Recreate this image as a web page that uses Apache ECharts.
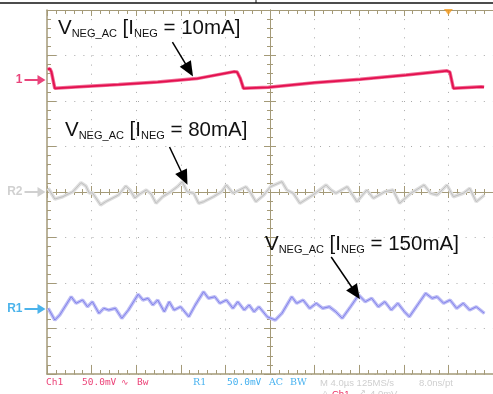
<!DOCTYPE html>
<html lang="en">
<head>
<meta charset="UTF-8" />
<title>scope capture</title>
<script src="https://cdn.jsdelivr.net/npm/echarts@6/dist/echarts.min.js"></script>
<style>
  html, body { margin: 0; padding: 0; background: #fff; }
  #scope { width: 493px; height: 394px; }
</style>
</head>
<body>
<div id="scope"></div>
<script>
// time in us from the left edge of the screen (4 us/div), level in mV (50 mV/div)
var ch1Time = [0.06, 0.26, 0.40, 0.70, 2.90, 6.42, 9.93, 13.45, 16.79, 17.05, 17.32, 17.62, 19.87, 23.99, 28.10, 32.20, 35.87, 36.13, 36.45, 38.94, 39.20];
var ch1Volt = [11.8, 12.6, 8.8, -9.1, -7.4, -4.9, -2.2, 1.6, 9.3, 8.8, 2.2, -9.1, -8.0, -2.9, 0.8, 5.5, 10.2, 8.8, -9.1, -7.4, -7.7];

var r2Time = [0.11, 0.70, 1.41, 2.31, 3.05, 3.49, 3.78, 4.07, 4.81, 5.25, 6.42, 7.06, 7.45, 7.88, 8.32, 8.90, 9.34, 9.78, 10.37, 11.10,
  11.69, 12.13, 12.57, 13.16, 13.60, 14.04, 14.92, 15.65, 16.09, 16.68, 17.26, 17.85, 18.29, 18.73, 19.45, 20.04, 21.07, 21.51, 22.09, 22.68,
  23.85, 25.03, 25.47, 25.91, 26.93, 27.80, 28.68, 29.27, 30.30, 31.03, 31.62, 32.64, 33.82, 34.40, 34.99, 35.87, 36.45, 37.33, 37.91, 38.50, 39.23];
var r2Volt = [4.1, -7.7, -5.2, 0.3, 10.2, 6.6, -1.1, -0.8, -14.3, -10.7, -3.3, 6.6, 2.2, -6.6, -2.2, 2.2, -2.2, -12.4, -5.2, 0.3,
  5.8, 11.3, 0.3, -1.4, -12.4, -10.7, -5.2, 0.3, 7.7, -1.4, 2.2, 5.8, -1.4, -10.7, -3.3, 5.8, 11.3, 2.2, -1.4, -12.4,
  -3.3, 7.7, 2.2, -1.4, 5.8, -10.7, 2.2, -6.9, 0.3, 2.2, -12.4, -1.4, 7.7, -1.4, -3.3, 7.7, -5.2, -1.4, 4.1, -10.7, -3.3];

var r1Time = [0.11, 0.70, 1.14, 2.17, 2.61, 3.19, 3.63, 4.07, 4.66, 5.10, 5.54, 6.13, 6.71, 7.30, 8.18, 8.61, 9.05, 9.49, 9.93, 10.52,
  10.96, 11.40, 11.98, 12.72, 13.30, 14.04, 14.48, 15.06, 15.50, 16.09, 16.68, 17.11, 17.69, 18.13, 18.57, 19.01, 19.75, 20.48, 21.07, 21.95,
  22.39, 22.97, 23.56, 24.15, 24.73, 25.32, 25.90, 26.48, 27.22, 27.95, 28.54, 29.12, 29.71, 30.30, 30.88, 31.47, 32.06, 32.50, 33.23, 33.96,
  34.55, 34.99, 35.57, 36.15, 36.74, 37.33, 37.91, 38.50, 39.23];
var r1Volt = [0.8, -12.1, -6.6, 13.5, 6.3, 9.9, 2.5, 8.0, -4.7, 0.8, -1.1, 0.8, -10.2, -1.1, 16.2, 9.9, 11.8, 4.4, 9.9, -3.0,
  8.0, -1.1, 2.5, -8.5, 4.4, 19.0, 11.8, 13.5, 6.3, 9.9, 0.8, 8.0, -1.1, 4.4, -3.0, 2.5, -8.5, -12.1, -4.7, 13.5,
  6.3, 9.9, 0.8, 6.3, 0.8, 2.5, -3.0, -10.2, 2.5, 15.4, 8.0, 11.8, 2.5, 8.0, -1.1, 6.3, -3.0, -8.5, 4.4, 17.3,
  11.8, 13.5, 6.3, 9.9, 0.8, 6.3, -1.1, 2.5, -4.7];

// ground marker of each trace (mV from screen centre)
var markerNames = ['1', 'R2', 'R1'];
var markerLevels = [123, 0, -128.6];
var markerColors = ['#e3155a', '#c4c4c4', '#1ea0e6'];
var triggerTime = 36.0;

// annotation pointers [time, mV] -> [time, mV]
var pointerFrom = [[11.25, 164.8], [10.99, 49.5], [25.49, -71.4]];
var pointerTo = [[12.75, 134.1], [12.31, 15.4], [27.69, -111.0]];

var halfSpan = 20; // screen centre is 20 us

function pairs(ts, vs, off) {
  return ts.map(function (t, i) { return [t - halfSpan, vs[i] + off]; });
}

var chart = echarts.init(document.getElementById('scope'));
var frame = '#a49a78';

function centreAxis(pos) {
  return {
    type: 'value', position: pos, min: -halfSpan, max: halfSpan, interval: 4,
    axisLine: { show: true, onZero: true, onZeroAxisIndex: 0, lineStyle: { color: frame, width: 1 } },
    axisTick: { show: true, inside: true, length: 6, lineStyle: { color: frame } },
    minorTick: { show: true, splitNumber: 5, length: 3, lineStyle: { color: frame } },
    axisLabel: { show: false }, splitLine: { show: false }
  };
}
function centreYAxis(pos) {
  return {
    type: 'value', position: pos, min: -200, max: 200, interval: 50,
    axisLine: { show: true, onZero: true, onZeroAxisIndex: 0, lineStyle: { color: frame, width: 1 } },
    axisTick: { show: true, inside: true, length: 6, lineStyle: { color: frame } },
    minorTick: { show: true, splitNumber: 5, length: 3, lineStyle: { color: frame } },
    axisLabel: { show: false }, splitLine: { show: false }
  };
}

var markLines = pointerFrom.map(function (p, i) {
  return [{ coord: [p[0] - halfSpan, p[1]] }, { coord: [pointerTo[i][0] - halfSpan, pointerTo[i][1]] }];
});

function note(x, y, amps) {
  return {
    type: 'text', x: x, y: y, z: 100,
    style: {
      text: '{a|V}{s|NEG_AC}{a| [I}{s|NEG}{a| = ' + amps + ']}',
      verticalAlign: 'bottom',
      rich: {
        a: { fontFamily: 'Liberation Sans', fontSize: 20.5, lineHeight: 22, verticalAlign: 'bottom', fill: '#111' },
        s: { fontFamily: 'Liberation Sans', fontSize: 11, lineHeight: 10, verticalAlign: 'bottom', fill: '#111' }
      }
    }
  };
}
function foot(x, txt, color, font, size) {
  return {
    type: 'text', x: x, y: 383, z: 100,
    style: { text: txt, fill: color, font: size + 'px "' + font + '"', verticalAlign: 'middle' }
  };
}

var option = {
  animation: false,
  grid: { left: 47, top: 10, width: 455, height: 364 },
  xAxis: [
    {
      type: 'value', position: 'bottom', min: -halfSpan, max: halfSpan, interval: 4,
      axisLine: { show: true, onZero: false, lineStyle: { color: frame, width: 1.5 } },
      axisTick: { show: true, inside: true, length: 9, lineStyle: { color: frame } },
      minorTick: { show: true, splitNumber: 5, length: 4, lineStyle: { color: frame } },
      axisLabel: { show: false },
      splitLine: { show: true, lineStyle: { color: '#a8a8a8', width: 1, type: [1, 8.1] } }
    },
    {
      type: 'value', position: 'top', min: -halfSpan, max: halfSpan, interval: 4,
      axisLine: { show: true, onZero: false, lineStyle: { color: frame, width: 1 } },
      axisTick: { show: true, inside: true, length: 6, lineStyle: { color: frame } },
      minorTick: { show: true, splitNumber: 5, length: 4, lineStyle: { color: frame } },
      axisLabel: { show: false }, splitLine: { show: false }
    },
    centreAxis('bottom'),
    centreAxis('top')
  ],
  yAxis: [
    {
      type: 'value', position: 'left', min: -200, max: 200, interval: 50,
      axisLine: { show: true, onZero: false, lineStyle: { color: frame, width: 1.5 } },
      axisTick: { show: true, inside: true, length: 9, lineStyle: { color: frame } },
      minorTick: { show: true, splitNumber: 5, length: 4, lineStyle: { color: frame } },
      axisLabel: { show: false },
      splitLine: { show: true, lineStyle: { color: '#a8a8a8', width: 1, type: [1, 8.1] } }
    },
    centreYAxis('left'),
    centreYAxis('right')
  ],
  series: [
    {
      name: 'R2 band', type: 'line', showSymbol: false, z: 3,
      lineStyle: { color: '#dedede', width: 3.5 },
      data: pairs(r2Time, r2Volt, markerLevels[1])
    },
    {
      name: 'R2', type: 'line', showSymbol: false, z: 4,
      lineStyle: { color: '#b9b9b9', width: 0.8 },
      data: pairs(r2Time, r2Volt, markerLevels[1])
    },
    {
      name: 'R1 band', type: 'line', showSymbol: false, z: 3,
      lineStyle: { color: '#bdbdf5', width: 3.5 },
      data: pairs(r1Time, r1Volt, markerLevels[2])
    },
    {
      name: 'R1', type: 'line', showSymbol: false, z: 4,
      lineStyle: { color: '#7474e8', width: 0.8 },
      data: pairs(r1Time, r1Volt, markerLevels[2])
    },
    {
      name: 'Ch1 band', type: 'line', showSymbol: false, z: 4,
      lineStyle: { color: '#f06a93', width: 3.5 },
      data: pairs(ch1Time, ch1Volt, markerLevels[0])
    },
    {
      name: 'Ch1', type: 'line', showSymbol: false, z: 5,
      lineStyle: { color: '#e3104f', width: 1.8 },
      data: pairs(ch1Time, ch1Volt, markerLevels[0]),
      markLine: {
        silent: true, symbol: ['none', 'triangle'], symbolSize: [13, 15], symbolOffset: [0, 0],
        lineStyle: { color: '#000', width: 1.5, type: 'solid' },
        label: { show: false },
        data: markLines
      }
    },
    {
      name: 'markers', type: 'scatter', clip: false, z: 6,
      symbol: 'path://M0,4L13,4L13,0L21,5L13,10L13,6L0,6Z',
      symbolSize: [21, 10], symbolOffset: [-12, 0],
      data: markerNames.map(function (n, i) {
        return {
          value: [-halfSpan, markerLevels[i]],
          itemStyle: { color: markerColors[i] },
          label: {
            show: true, position: 'left', distance: 2, formatter: n,
            color: markerColors[i], fontFamily: 'Liberation Sans', fontWeight: 'bold', fontSize: 12
          }
        };
      })
    },
    {
      name: 'trigger', type: 'scatter', clip: false, z: 6,
      symbol: 'triangle', symbolRotate: 180, symbolSize: [9, 6], symbolOffset: [0, 2],
      itemStyle: { color: '#f59a1b' },
      data: [[triggerTime - halfSpan, 200]]
    }
  ],
  graphic: [
    { type: 'line', shape: { x1: 0, y1: 3, x2: 493, y2: 3 }, style: { stroke: '#111', lineWidth: 1.5 } },
    { type: 'line', shape: { x1: 256, y1: 0, x2: 256, y2: 3 }, style: { stroke: '#111', lineWidth: 1 } },
    note(58, 39, '10mA'),
    note(65, 141, '80mA'),
    note(265, 255, '150mA'),
    foot(46, 'Ch1', '#ec4479', 'DejaVu Sans Mono', 9.5),
    foot(82, '50.0mV', '#ec4479', 'DejaVu Sans Mono', 9.5),
    foot(121, '\u223F', '#ec4479', 'DejaVu Sans', 9),
    foot(137, 'Bw', '#ec4479', 'DejaVu Sans Mono', 9.5),
    foot(193, 'R1', '#48b2f0', 'DejaVu Serif', 9.5),
    foot(227, '50.0mV', '#48b2f0', 'DejaVu Sans Mono', 9.5),
    foot(269, 'AC', '#48b2f0', 'DejaVu Serif', 9.5),
    foot(290, 'BW', '#48b2f0', 'DejaVu Serif', 9.5),
    foot(320, 'M 4.0\u00b5s 125MS/s', '#cfcfcf', 'Liberation Sans', 9.5),
    foot(419, '8.0ns/pt', '#cfcfcf', 'Liberation Sans', 9.5),
    { type: 'text', x: 322, y: 389, z: 100, style: { text: 'A', fill: '#cfcfcf', font: '9.5px "Liberation Sans"' } },
    { type: 'text', x: 332, y: 389, z: 100, style: { text: 'Ch1', fill: '#ec2a5e', font: '9.5px "Liberation Sans"' } },
    { type: 'text', x: 358, y: 389, z: 100, style: { text: '\u2197', fill: '#cfcfcf', font: '9.5px "DejaVu Sans"' } },
    { type: 'text', x: 370, y: 389, z: 100, style: { text: '4.0mV', fill: '#cfcfcf', font: '9.5px "Liberation Sans"' } }
  ]
};

chart.setOption(option);
</script>
</body>
</html>
